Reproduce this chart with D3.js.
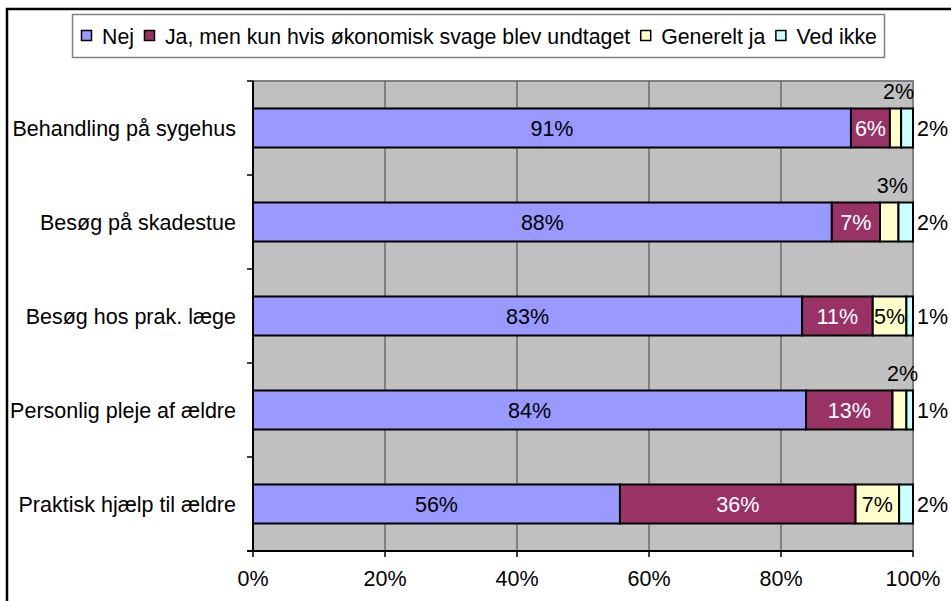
<!DOCTYPE html>
<html>
<head>
<meta charset="utf-8">
<script src="https://cdn.jsdelivr.net/npm/d3@7"></script>
<style>
  body { margin: 0; background: #fff; }
  text { font-family: "Liberation Sans", Arial, sans-serif; }
</style>
</head>
<body>
<div id="chart"></div>
<script>
// Categories (top to bottom)
const categories = [
  "Behandling på sygehus",
  "Besøg på skadestue",
  "Besøg hos prak. læge",
  "Personlig pleje af ældre",
  "Praktisk hjælp til ældre"
];

// Series names
const seriesNames = [
  "Nej",
  "Ja, men kun hvis økonomisk svage blev undtaget",
  "Generelt ja",
  "Ved ikke"
];

// Shares in percent, one array per series (same order as categories)
const nej = [90.6, 87.7, 83.2, 83.8, 55.6];
const jaMen = [5.9, 7.3, 10.7, 13.1, 35.7];
const generelt = [1.7, 2.8, 5.1, 2.1, 6.6];
const vedIkke = [1.8, 2.2, 1.0, 1.0, 2.1];

const xTicks = [0, 20, 40, 60, 80, 100];

const seriesColors = ["#9999ff", "#993366", "#ffffcc", "#ccffff"];
const labelColors = ["#000", "#fff", "#000", "#000"];

const width = 951;
const height = 601;
const fontSize = 21.5;
const legendFont = 21.3;

const svg = d3.select("#chart")
  .append("svg")
  .attr("width", width)
  .attr("height", height);

// outer chart frame (cut off on right and bottom)
svg.append("path")
  .attr("d", "M7,601 V9 H951")
  .attr("fill", "none")
  .attr("stroke", "#000")
  .attr("stroke-width", 2.5);

// plot area
const plot = { left: 253, right: 913, top: 81, bottom: 551 };

const x = d3.scaleLinear().domain([0, 100]).range([plot.left, plot.right]);
const y = d3.scaleBand()
  .domain(categories)
  .range([plot.top, plot.bottom])
  .paddingInner(0.585)
  .paddingOuter(0.2925);

svg.append("rect")
  .attr("x", plot.left)
  .attr("y", plot.top)
  .attr("width", plot.right - plot.left)
  .attr("height", plot.bottom - plot.top)
  .attr("fill", "#c0c0c0")
  .attr("stroke", "#808080")
  .attr("stroke-width", 2);

// vertical gridlines
svg.append("g")
  .selectAll("line")
  .data(xTicks.slice(1, -1))
  .join("line")
  .attr("x1", (d) => x(d))
  .attr("x2", (d) => x(d))
  .attr("y1", plot.top)
  .attr("y2", plot.bottom)
  .attr("stroke", "#404040")
  .attr("stroke-width", 1);

// stack data
const table = categories.map((c, i) => ({
  cat: c,
  vals: [nej[i], jaMen[i], generelt[i], vedIkke[i]]
}));

const segs = [];
table.forEach((row) => {
  let acc = 0;
  row.vals.forEach((v, s) => {
    segs.push({ cat: row.cat, s: s, v: v, x0: acc, x1: acc + v });
    acc += v;
  });
});

svg.append("g")
  .selectAll("rect")
  .data(segs)
  .join("rect")
  .attr("x", (d) => x(d.x0))
  .attr("y", (d) => y(d.cat))
  .attr("width", (d) => x(d.x1) - x(d.x0))
  .attr("height", y.bandwidth())
  .attr("fill", (d) => seriesColors[d.s])
  .attr("stroke", "#000")
  .attr("stroke-width", 2);

// data labels
const fmt = (v) => Math.round(v) + "%";
const labels = svg.append("g").attr("font-size", fontSize);

segs.forEach((d) => {
  const w = x(d.x1) - x(d.x0);
  const cy = y(d.cat) + y.bandwidth() / 2;
  let tx, ty, anchor, color = labelColors[d.s];
  if (d.s === 3) {
    // "Ved ikke" sits right of the bar
    tx = x(100) + 4; ty = cy; anchor = "start";
  } else if (d.s === 2 && w < 30) {
    // small "Generelt ja" goes above the bar
    tx = (x(d.x0) + x(d.x1)) / 2 + 3; ty = y(d.cat) - 17; anchor = "middle";
  } else {
    tx = (x(d.x0) + x(d.x1)) / 2; ty = cy; anchor = "middle";
  }
  labels.append("text")
    .attr("x", tx)
    .attr("y", ty)
    .attr("dy", "0.36em")
    .attr("text-anchor", anchor)
    .attr("fill", color)
    .text(fmt(d.v));
});

// category axis (left)
const bounds = d3.range(categories.length + 1).map((i) => plot.top + i * y.step());
svg.append("line")
  .attr("x1", plot.left).attr("x2", plot.left)
  .attr("y1", plot.top).attr("y2", plot.bottom)
  .attr("stroke", "#000").attr("stroke-width", 2);
svg.append("g")
  .selectAll("line")
  .data(bounds)
  .join("line")
  .attr("x1", plot.left - 6).attr("x2", plot.left)
  .attr("y1", (d) => d).attr("y2", (d) => d)
  .attr("stroke", "#000").attr("stroke-width", 1.5);

svg.append("g")
  .attr("font-size", fontSize)
  .selectAll("text")
  .data(categories)
  .join("text")
  .attr("x", 236)
  .attr("y", (d) => y(d) + y.bandwidth() / 2)
  .attr("dy", "0.36em")
  .attr("text-anchor", "end")
  .text((d) => d);

// value axis (bottom)
svg.append("line")
  .attr("x1", plot.left - 6).attr("x2", plot.right)
  .attr("y1", plot.bottom).attr("y2", plot.bottom)
  .attr("stroke", "#000").attr("stroke-width", 2);
svg.append("g")
  .selectAll("line")
  .data(xTicks)
  .join("line")
  .attr("x1", (d) => x(d)).attr("x2", (d) => x(d))
  .attr("y1", plot.bottom).attr("y2", plot.bottom + 6)
  .attr("stroke", "#000").attr("stroke-width", 1.5);
svg.append("g")
  .attr("font-size", fontSize)
  .selectAll("text")
  .data(xTicks)
  .join("text")
  .attr("x", (d) => x(d))
  .attr("y", 578)
  .attr("dy", "0.36em")
  .attr("text-anchor", "middle")
  .text((d) => d + "%");

// legend
const legend = svg.append("g");
legend.append("rect")
  .attr("x", 72.5).attr("y", 14.5)
  .attr("width", 812).attr("height", 43)
  .attr("fill", "#fff")
  .attr("stroke", "#808080")
  .attr("stroke-width", 1.5);

let lx = 81;
seriesNames.forEach((name, i) => {
  legend.append("rect")
    .attr("x", lx + 0.5).attr("y", 30.5)
    .attr("width", 10).attr("height", 10)
    .attr("fill", seriesColors[i])
    .attr("stroke", "#000")
    .attr("stroke-width", 1.5);
  const t = legend.append("text")
    .attr("x", lx + 21)
    .attr("y", 36)
    .attr("dy", "0.36em")
    .attr("font-size", legendFont)
    .text(name);
  lx += 21 + t.node().getComputedTextLength() + 10;
});
</script>
</body>
</html>
